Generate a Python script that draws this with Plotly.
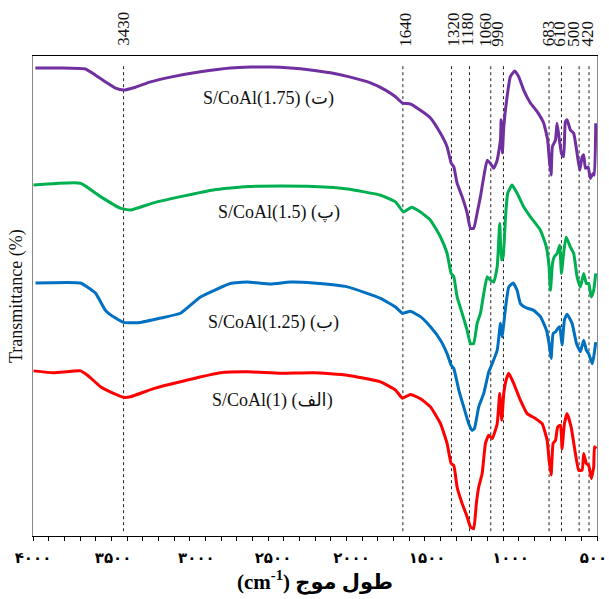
import plotly.graph_objects as go

# ---- data (wavenumber cm-1, transmittance in stacked arbitrary %) ----
w_175 = [3985, 3825, 3665, 3601, 3537, 3473, 3422, 3346, 3250, 3122, 2931, 2740, 2612, 2484, 2357, 2229,
         2101, 1974, 1846, 1750, 1686, 1642, 1591, 1527, 1463, 1399, 1357, 1331, 1314, 1293, 1261, 1229,
         1208, 1187, 1165, 1144, 1123, 1101, 1080, 1059, 1037, 1016, 1012, 1004, 995, 974, 953, 925, 900,
         868, 825, 782, 740, 715, 704, 693, 685, 665, 655, 640, 627, 613, 602, 591, 570, 549, 527, 510,
         495, 485, 474, 457, 442, 425, 417, 408]
t_175 = [97.5, 97.5, 97.3, 96.0, 94.6, 93.3, 92.9, 93.5, 94.6, 95.6, 96.7, 97.5, 97.7, 97.7, 97.5, 97.1,
         96.5, 95.6, 94.4, 92.9, 91.5, 90.2, 90.0, 88.7, 87.1, 83.9, 81.1, 77.7, 76.9, 73.5, 70.7, 67.3,
         64.1, 64.1, 67.3, 70.7, 74.8, 78.3, 77.6, 76.6, 78.3, 82.5, 86.7, 79.8, 85.3, 91.5, 95.7, 96.9, 95.7,
         92.9, 90.2, 88.4, 86.0, 82.5, 78.3, 75.2, 81.1, 82.5, 86.0, 82.5, 79.7, 79.0, 86.3, 86.7, 84.6, 83.9, 79.7, 76.2,
         79.0, 79.4, 76.6, 76.9, 74.5, 75.5, 75.2, 86.0]

w_15 = [3997, 3697, 3569, 3443, 3378, 3231, 3059, 2848, 2631, 2420, 2210, 1993, 1782, 1686, 1635, 1584,
        1527, 1463, 1399, 1357, 1331, 1314, 1293, 1261, 1229, 1208, 1187, 1165, 1144, 1123, 1101, 1080,
        1059, 1037, 1021, 1010, 999, 984, 970, 942, 910, 868, 825, 761, 723, 706, 697, 684, 672, 654, 638,
        627, 612, 597, 570, 549, 527, 506, 485, 468, 453, 436, 421, 408]
t_15 = [73.1, 73.5, 70.7, 68.3, 67.9, 69.4, 70.7, 72.1, 72.8, 72.9, 72.8, 72.3, 71.0, 69.6, 67.5, 68.5,
        67.5, 65.8, 62.3, 58.9, 54.7, 54.0, 49.8, 46.4, 42.9, 40.1, 40.1, 44.3, 46.4, 50.5, 54.0, 53.3,
        52.9, 56.1, 65.1, 57.5, 58.2, 66.5, 71.4, 73.1, 71.4, 68.6, 66.5, 63.7, 60.2, 56.1, 51.2, 56.8, 58.2, 58.9, 60.6,
        54.7, 59.2, 62.3, 60.2, 58.9, 54.0, 51.9, 54.7, 52.6, 52.6, 49.8, 51.2, 54.7]

w_125 = [3984, 3697, 3601, 3537, 3473, 3422, 3314, 3186, 3059, 2931, 2740, 2631, 2484, 2357, 2210, 1993,
         1782, 1686, 1642, 1591, 1527, 1463, 1399, 1357, 1331, 1314, 1282, 1251, 1219, 1197, 1182, 1155,
         1123, 1091, 1069, 1037, 1016, 1005, 995, 978, 963, 935, 910, 889, 857, 804, 761, 723, 706, 693,
         680, 665, 651, 638, 623, 608, 591, 559, 531, 506, 485, 468, 453, 431, 421, 408]
t_125 = [52.7, 52.7, 50.6, 47.0, 45.4, 44.5, 44.5, 45.4, 46.4, 49.8, 52.6, 52.9, 52.5, 52.9, 52.7, 51.9,
         49.5, 47.7, 46.4, 46.8, 45.7, 43.6, 40.8, 38.0, 35.6, 34.9, 30.4, 26.9, 23.4, 22.0, 22.4, 26.9,
         29.7, 34.2, 35.9, 38.7, 44.3, 41.5, 44.3, 49.1, 51.9, 52.7, 51.2, 48.4, 47.6, 47.0, 45.7, 42.9, 40.1, 37.0,
         42.2, 42.5, 43.2, 43.6, 39.8, 45.0, 46.2, 44.3, 40.1, 38.4, 40.8, 38.7, 38.0, 35.9, 37.3, 40.4]

w_1 = [3997, 3869, 3697, 3652, 3569, 3486, 3422, 3378, 3231, 3014, 2803, 2631, 2420, 2210, 1993, 1782,
       1686, 1642, 1591, 1527, 1463, 1399, 1357, 1331, 1314, 1293, 1261, 1229, 1208, 1187, 1170, 1155,
       1133, 1112, 1091, 1069, 1037, 1021, 1008, 995, 980, 963, 932, 889, 846, 793, 750, 718, 706, 693,
       680, 665, 651, 633, 623, 608, 591, 565, 538, 517, 495, 485, 468, 453, 436, 421, 416, 404]
t_1 = [34.4, 34.0, 34.4, 33.5, 31.1, 29.7, 28.9, 29.0, 30.7, 32.5, 34.0, 34.2, 33.9, 34.0, 33.5, 32.1,
       30.4, 28.7, 29.5, 28.6, 26.9, 23.4, 19.3, 15.1, 14.7, 10.2, 6.8, 4.0, 1.9, 1.5, 6.8, 10.2,
       13.0, 19.3, 21.0, 20.3, 23.4, 29.7, 24.1, 29.7, 32.5, 33.9, 31.8, 28.3, 25.5, 24.5, 23.4, 19.9, 15.8, 12.7,
       19.3, 19.9, 22.7, 23.1, 18.2, 23.4, 25.5, 22.7, 17.2, 13.7, 13.7, 17.2, 15.1, 14.7, 12.0, 14.4, 18.6, 18.2]

series_names = ["S/CoAl(1.75) (ت)\u200e", "S/CoAl(1.5) (پ)\u200e",
                "S/CoAl(1.25) (ب)\u200e", "S/CoAl(1) (الف)\u200e"]
series_colors = ["#7030A0", "#00B050", "#0070C0", "#FF0000"]
series_w = [w_175, w_15, w_125, w_1]
series_t = [t_175, t_15, t_125, t_1]
name_x = [2497, 2433, 2465, 2471]
name_y = [91.2, 67.5, 44.5, 28.3]

band_labels = ["3430", "1640", "1320", "1180", "1060", "990", "683", "610", "500", "420"]
band_lines = [3422, 1639, 1329, 1214, 1078, 997, 706, 627, 514, 451]
band_label_x = [3422, 1623, 1318, 1223, 1112, 1036, 713, 640, 551, 462]

tick_text = ["۴۰۰۰", "۳۵۰۰", "۳۰۰۰", "۲۵۰۰", "۲۰۰۰", "۱۵۰۰", "۱۰۰۰", "۵۰۰"]
tick_pos = [4000, 3489, 2957, 2468, 1967, 1484, 952, 423]

fig = go.Figure()
for w, t, c, n in zip(series_w, series_t, series_colors, series_names):
    fig.add_trace(go.Scatter(x=w, y=t, mode="lines", name=n,
                             line=dict(color=c, width=3, shape="spline", smoothing=0.4),
                             showlegend=False))

for bx in band_lines:
    fig.add_shape(type="line", xref="x", yref="paper", x0=bx, x1=bx, y0=0.01, y1=0.981,
                  line=dict(color="#222222", width=1, dash="dot"), layer="below")

annotations = []
for lbl, lx in zip(band_labels, band_label_x):
    annotations.append(dict(x=lx, y=1.016, xref="x", yref="paper", text=lbl, textangle=-90,
                            showarrow=False, xanchor="center", yanchor="bottom",
                            font=dict(family="Liberation Serif", size=17, color="#111")))
for n, nx, ny in zip(series_names, name_x, name_y):
    annotations.append(dict(x=nx, y=ny, xref="x", yref="y", text=n, showarrow=False,
                            font=dict(family="Liberation Serif, DejaVu Sans", size=18, color="#111")))
annotations.append(dict(x=0.5, y=-0.093, xref="paper", yref="paper", yanchor="middle",
                        text="(cm<sup>-1</sup>) طول موج", showarrow=False,
                        font=dict(family="Liberation Serif, DejaVu Sans", size=21, color="#000", weight="bold")))
annotations.append(dict(x=-0.030, y=0.5, xref="paper", yref="paper", text="Transmittance (%)",
                        textangle=-90, showarrow=False, xanchor="center", yanchor="middle",
                        font=dict(family="Liberation Serif", size=18, color="#111")))

fig.update_layout(
    width=609, height=599,
    margin=dict(l=33, r=12, t=56, b=63, autoexpand=False),
    paper_bgcolor="white", plot_bgcolor="white",
    annotations=annotations,
    xaxis=dict(range=[4000, 400], showgrid=False, zeroline=False, automargin=False,
               showline=True, linecolor="#000", linewidth=1.3, mirror=True,
               tickmode="array", tickvals=tick_pos, ticktext=tick_text, ticks="",
               ticklabelstandoff=8,
               tickfont=dict(family="DejaVu Sans", size=15, color="#000", weight="bold"),
               minor=dict(tickmode="linear", tick0=400, dtick=100, ticks="outside",
                          ticklen=4, tickwidth=1, tickcolor="#000")),
    yaxis=dict(range=[0, 100], showgrid=False, zeroline=False, showticklabels=False, automargin=False,
               showline=True, linecolor="#888", linewidth=1.3, mirror=True, ticks=""),
)

fig.write_html("out.html")
